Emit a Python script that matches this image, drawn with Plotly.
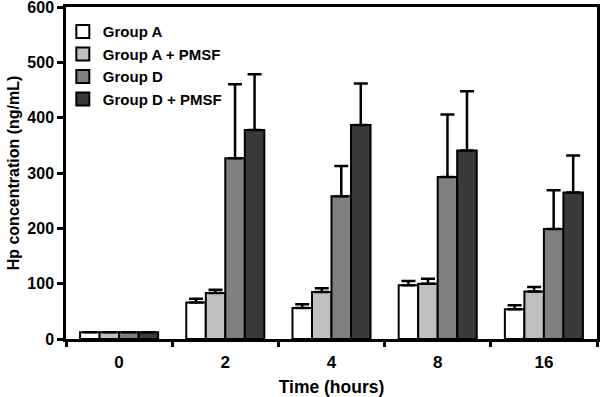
import plotly.graph_objects as go

times = ["0", "2", "4", "8", "16"]
series_names = ["Group A", "Group A + PMSF", "Group D", "Group D + PMSF"]

group_a = [12, 66, 56, 97, 54]
group_a_err = [0, 7, 7, 8, 7]
group_a_pmsf = [12, 83, 85, 100, 86]
group_a_pmsf_err = [0, 6, 7, 9, 8]
group_d = [12, 327, 258, 293, 199]
group_d_err = [0, 134, 55, 113, 70]
group_d_pmsf = [12, 378, 387, 341, 265]
group_d_pmsf_err = [0, 101, 75, 107, 67]

y_ticks = [0, 100, 200, 300, 400, 500, 600]

colors = ["#ffffff", "#c0c0c0", "#808080", "#3a3a3a"]
values = [group_a, group_a_pmsf, group_d, group_d_pmsf]
errors = [group_a_err, group_a_pmsf_err, group_d_err, group_d_pmsf_err]

FONT = "Liberation Sans, Arial, sans-serif"

fig = go.Figure()
for name, col, v, e in zip(series_names, colors, values, errors):
    fig.add_trace(go.Bar(
        x=times, y=v, name=name, showlegend=False,
        marker=dict(color=col, line=dict(color="#000000", width=2)),
        error_y=dict(type="data", symmetric=False, array=e,
                     arrayminus=[0] * len(e), color="#000000",
                     thickness=2.5, width=7, visible=True),
    ))
# legend swatches (square markers matching the bar fills)
for name, col in zip(series_names, colors):
    fig.add_trace(go.Scatter(
        x=[None], y=[None], mode="markers", name=name,
        marker=dict(symbol="square", size=13, color=col,
                    line=dict(color="#000000", width=2)),
        hoverinfo="skip",
    ))

fig.update_layout(
    width=600, height=397,
    margin=dict(l=66, r=3, t=7, b=58),
    paper_bgcolor="white", plot_bgcolor="white",
    barmode="group", bargap=0.265, bargroupgap=0,
    font=dict(family=FONT, color="#000000"),
    showlegend=True,
    legend=dict(x=-0.006, y=0.975, xanchor="left", yanchor="top",
                bgcolor="rgba(0,0,0,0)",
                font=dict(family=FONT, size=15, color="#000000", weight="bold"),
                itemwidth=30, itemsizing="trace"),
)
fig.update_xaxes(
    type="category", categoryorder="array", categoryarray=times,
    automargin=False,
    showline=True, linecolor="#000000", linewidth=2.5, mirror=True,
    ticks="outside", tickson="boundaries", ticklen=5, tickwidth=2.5,
    tickcolor="#000000", showgrid=False, zeroline=False,
    ticklabelstandoff=6,
    tickfont=dict(family=FONT, size=17, color="#000000", weight="bold"),
    title=dict(text="Time (hours)", standoff=10,
               font=dict(family=FONT, size=17.5, color="#000000", weight="bold")),
)
fig.update_yaxes(
    range=[0, 600.5], tickvals=y_ticks, ticktext=[str(t) for t in y_ticks],
    automargin=False, ticklabeloverflow="allow",
    showline=True, linecolor="#000000", linewidth=2.5, mirror=True,
    ticks="outside", ticklen=6, tickwidth=2.5, tickcolor="#000000",
    showgrid=False, zeroline=False,
    tickfont=dict(family=FONT, size=16, color="#000000", weight="bold"),
    title=dict(text="Hp concentration (ng/mL)", standoff=4,
               font=dict(family=FONT, size=16, color="#000000", weight="bold")),
)

# remove the browser's default 8px body margin so the figure fills the window
fig.write_html("out.html", config={"displayModeBar": False},
               post_script="document.body.style.margin='0';")
